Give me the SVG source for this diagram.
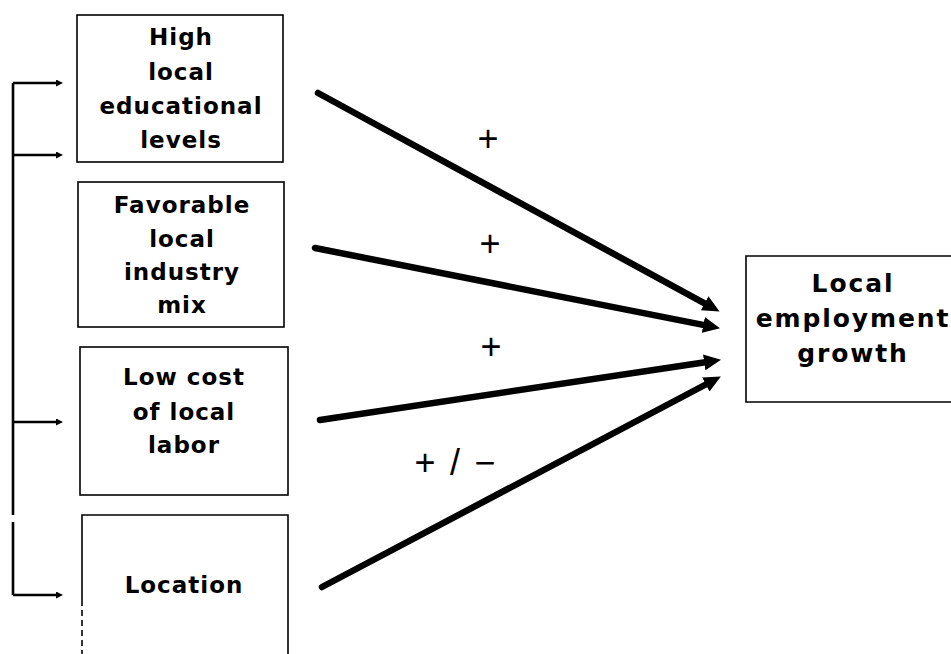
<svg xmlns="http://www.w3.org/2000/svg" width="951" height="654" viewBox="0 0 951 654">
<style>
.box{fill:none;stroke:#000;stroke-width:1.6}
.lbl{font-family:"DejaVu Sans","Liberation Sans",Arial,sans-serif;font-weight:bold;font-size:23px;letter-spacing:1px;text-anchor:middle;fill:#000}
.big{font-size:25px;letter-spacing:1.9px}
.sign{font-family:"Liberation Sans",Arial,sans-serif;font-size:36px;text-anchor:middle;fill:#000}
.arr{stroke:#000;stroke-width:6.5;stroke-linecap:round;fill:none}
.br{stroke:#000;stroke-width:2.6;fill:none}
</style>
<defs>
<marker id="ah" markerUnits="userSpaceOnUse" viewBox="0 -8 17 16" refX="1" refY="0" markerWidth="17" markerHeight="16" orient="auto">
<path d="M0,-8 L17,0 L0,8 z" fill="#000"/>
</marker>
<marker id="dot" markerUnits="userSpaceOnUse" viewBox="0 -3.5 7 7" refX="1" refY="0" markerWidth="7" markerHeight="7" orient="auto">
<path d="M0,-3.5 L7,0 L0,3.5 z" fill="#000"/>
</marker>
</defs>
<rect width="951" height="654" fill="#fff"/>

<g id="n1">
<rect class="box" x="77" y="15" width="206" height="147"/>
<text class="lbl" x="181" y="45">High</text>
<text class="lbl" x="181" y="80">local</text>
<text class="lbl" x="181" y="114">educational</text>
<text class="lbl" x="181" y="148">levels</text>
</g>
<g id="n2">
<rect class="box" x="78" y="182" width="206" height="145"/>
<text class="lbl" x="182" y="213">Favorable</text>
<text class="lbl" x="182" y="247">local</text>
<text class="lbl" x="182" y="280">industry</text>
<text class="lbl" x="182" y="313">mix</text>
</g>
<g id="n3">
<rect class="box" x="80" y="347" width="208" height="148"/>
<text class="lbl" x="184" y="385">Low cost</text>
<text class="lbl" x="184" y="420">of local</text>
<text class="lbl" x="184" y="453">labor</text>
</g>
<g id="n4">
<path class="box" d="M82,600 L82,515 L288,515 L288,660"/>
<path class="box" d="M82,600 L82,660" stroke-dasharray="6,4"/>
<text class="lbl" x="184" y="593">Location</text>
</g>
<g id="n5">
<path class="box" d="M960,256 L746,256 L746,402 L960,402"/>
<text class="lbl big" x="853" y="292">Local</text>
<text class="lbl big" x="853" y="327">employment</text>
<text class="lbl big" x="853" y="362">growth</text>
</g>

<g id="connectors">
<path class="br" d="M13,83 L13,515 M13,522 L13,595"/>
<line class="br" x1="13" y1="83" x2="57" y2="83" marker-end="url(#dot)"/>
<line class="br" x1="13" y1="155" x2="57" y2="155" marker-end="url(#dot)"/>
<line class="br" x1="13" y1="422" x2="57" y2="422" marker-end="url(#dot)"/>
<line class="br" x1="13" y1="595" x2="57" y2="595" marker-end="url(#dot)"/>

<line class="arr" x1="318" y1="93" x2="705.5" y2="303.8" marker-end="url(#ah)"/>
<line class="arr" x1="315" y1="248" x2="704.3" y2="325.1" marker-end="url(#ah)"/>
<line class="arr" x1="320" y1="420" x2="705.2" y2="362.2" marker-end="url(#ah)"/>
<line class="arr" x1="322" y1="587" x2="706.7" y2="384" marker-end="url(#ah)"/>

<text class="sign" x="488" y="151">+</text>
<text class="sign" x="490" y="256">+</text>
<text class="sign" x="491" y="359">+</text>
<text class="sign" y="475"><tspan x="425">+</tspan><tspan x="455">/</tspan><tspan x="485">−</tspan></text>
</g>
</svg>
